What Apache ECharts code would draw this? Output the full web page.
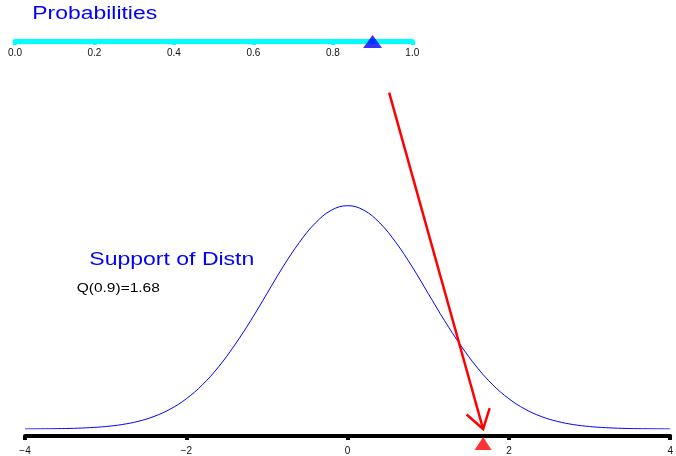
<!DOCTYPE html>
<html>
<head>
<meta charset="utf-8">
<script src="https://cdn.jsdelivr.net/npm/echarts@6/dist/echarts.min.js"></script>
<style>
  html, body { margin: 0; padding: 0; background: #fff; }
  #chart { width: 676px; height: 456px; }
</style>
</head>
<body>
<div id="chart"></div>
<script>
// Support grid and density heights of the plotted distribution
const supportX = [-4, -3.8, -3.6, -3.4, -3.2, -3, -2.8, -2.6, -2.4, -2.2, -2, -1.8, -1.6, -1.4, -1.2, -1, -0.8, -0.6, -0.4, -0.2,
  0, 0.2, 0.4, 0.6, 0.8, 1, 1.2, 1.4, 1.6, 1.8, 2, 2.2, 2.4, 2.6, 2.8, 3, 3.2, 3.4, 3.6, 3.8, 4];
const density = [0.0001, 0.0003, 0.0006, 0.0012, 0.0024, 0.0044, 0.0079, 0.0136, 0.0224, 0.0355, 0.054, 0.079, 0.111, 0.150, 0.194,
  0.242, 0.290, 0.333, 0.368, 0.391, 0.399, 0.391, 0.368, 0.333, 0.290, 0.242, 0.194, 0.150, 0.111, 0.079, 0.054,
  0.0355, 0.0224, 0.0136, 0.0079, 0.0044, 0.0024, 0.0012, 0.0006, 0.0003, 0.0001];

// Probability scale ticks and support scale ticks
const probTicks = [0, 0.2, 0.4, 0.6, 0.8, 1.0];
const supportTicks = [-4, -2, 0, 2, 4];

// Selected probability and its quantile
const prob = 0.9;
const quantile = 1.68;
// Tail of the arrow (support value, density level)
const arrowFrom = [0.515, 0.601];

const chart = echarts.init(document.getElementById('chart'), null, { renderer: 'canvas' });

const curve = supportX.map((x, i) => [x, density[i]]);

const option = {
  animation: false,
  backgroundColor: '#ffffff',
  textStyle: { fontFamily: 'Liberation Sans, Arial, sans-serif' },
  grid: [
    { left: 15, right: 263.7, top: 20, height: 21 },
    { left: 25, right: 3, top: 9.25, bottom: 26 }
  ],
  xAxis: [
    {
      gridIndex: 0, type: 'value', position: 'bottom',
      min: probTicks[0], max: probTicks[probTicks.length - 1], interval: 0.2,
      axisLine: { onZero: false, lineStyle: { color: '#00FFFF', width: 5 } },
      axisTick: { length: 4, lineStyle: { color: '#00FFFF', width: 4 } },
      axisLabel: { margin: 7, fontSize: 10, color: '#111', formatter: v => v.toFixed(1) },
      splitLine: { show: false }
    },
    {
      gridIndex: 1, type: 'value', position: 'bottom', offset: 7,
      min: supportTicks[0], max: supportTicks[supportTicks.length - 1], interval: 2,
      axisLine: { onZero: false, lineStyle: { color: '#000', width: 4 } },
      axisTick: { length: 4, lineStyle: { color: '#000', width: 4 } },
      axisLabel: { margin: 10, fontSize: 10, color: '#111', formatter: v => String(v).replace('-', '\u2212') },
      splitLine: { show: false }
    }
  ],
  yAxis: [
    { gridIndex: 0, type: 'value', min: 0, max: 1, show: false },
    { gridIndex: 1, type: 'value', min: 0, max: 0.75, show: false }
  ],
  series: [
    {
      type: 'line', xAxisIndex: 1, yAxisIndex: 1,
      data: curve, smooth: 0.4, showSymbol: false, symbol: 'none',
      lineStyle: { color: '#0000FF', width: 1 }, z: 2
    },
    {
      type: 'custom', xAxisIndex: 1, yAxisIndex: 1, clip: false, z: 3,
      data: [[arrowFrom[0], arrowFrom[1], quantile, 0]],
      encode: { x: [0, 2], y: [1, 3] },
      renderItem: function (params, api) {
        const a = api.coord([api.value(0), api.value(1)]);
        const b = api.coord([api.value(2), api.value(3)]);
        const ang = Math.atan2(a[1] - b[1], a[0] - b[0]);
        const L = 22, h = 33 * Math.PI / 180;
        const l = [b[0] + L * Math.cos(ang + h), b[1] + L * Math.sin(ang + h)];
        const r = [b[0] + L * Math.cos(ang - h), b[1] + L * Math.sin(ang - h)];
        const st = { stroke: '#FF0000', lineWidth: 2.5, fill: null };
        return {
          type: 'group',
          children: [
            { type: 'line', shape: { x1: a[0], y1: a[1], x2: b[0], y2: b[1] }, style: st },
            { type: 'polyline', shape: { points: [l, b, r] }, style: st }
          ]
        };
      }
    },
    {
      type: 'scatter', xAxisIndex: 1, yAxisIndex: 1, clip: false, z: 5,
      data: [[quantile, 0]], symbol: 'triangle', symbolSize: [17, 13], symbolOffset: [0, 14.5],
      itemStyle: { color: '#FF0000' }, silent: true
    },
    {
      type: 'scatter', xAxisIndex: 0, yAxisIndex: 0, clip: false, z: 5,
      data: [[prob, 0]], symbol: 'triangle', symbolSize: [19, 13], symbolOffset: [0, 0.5],
      itemStyle: { color: '#0000FF' }, silent: true
    }
  ],
  graphic: [
    {
      type: 'text', x: 32.3, y: 14, scaleX: 1.31, silent: true,
      style: { text: 'Probabilities', fill: '#0000FF', font: '17.5px "Liberation Sans", Arial, sans-serif', textAlign: 'left', textVerticalAlign: 'middle' }
    },
    {
      type: 'text', x: 89.3, y: 260.6, scaleX: 1.315, silent: true,
      style: { text: 'Support of Distn', fill: '#0000FF', font: '17.5px "Liberation Sans", Arial, sans-serif', textAlign: 'left', textVerticalAlign: 'middle' }
    },
    {
      type: 'text', x: 76.7, y: 289, scaleX: 1.24, silent: true,
      style: { text: 'Q(' + prob + ')=' + quantile.toFixed(2), fill: '#000', font: '12.5px "Liberation Sans", Arial, sans-serif', textAlign: 'left', textVerticalAlign: 'middle' }
    }
  ]
};

chart.setOption(option);
</script>
</body>
</html>
